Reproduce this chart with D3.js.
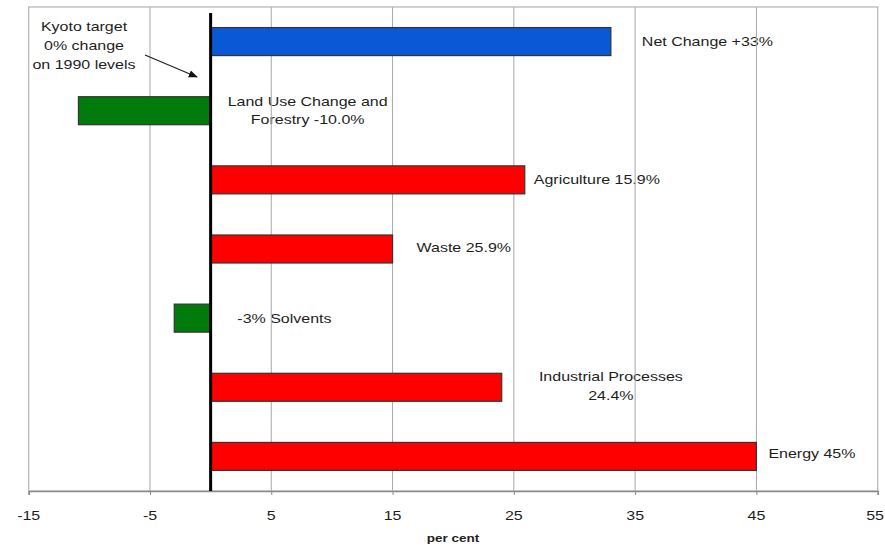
<!DOCTYPE html>
<html>
<head>
<meta charset="utf-8">
<script src="https://cdn.jsdelivr.net/npm/d3@7"></script>
<style>
  html, body { margin: 0; padding: 0; background: #fff; }
  svg { display: block; font-family: "Liberation Sans", Arial, sans-serif; }
</style>
</head>
<body>
<svg id="chart" width="885" height="549"></svg>
<script>
// Greenhouse gas emissions change by sector, per cent vs 1990
const categories = ["Net Change", "Land Use Change and Forestry", "Agriculture", "Waste", "Solvents", "Industrial Processes", "Energy"];
const values = [33, -10.9, 25.9, 15, -3, 24, 45];
const barColors = ["#0a58d6", "#007a0a", "#ff0000", "#ff0000", "#007a0a", "#ff0000", "#ff0000"];
// Annotation text beside each bar (one array entry per line)
const barLabels = [
  ["Net Change +33%"],
  ["Land Use Change and", "Forestry -10.0%"],
  ["Agriculture 15.9%"],
  ["Waste 25.9%"],
  ["-3% Solvents"],
  ["Industrial Processes", "24.4%"],
  ["Energy 45%"]
];
const xTicks = [-15, -5, 5, 15, 25, 35, 45, 55];
const axisTitle = "per cent";
const targetNote = ["Kyoto target", "0% change", "on 1990 levels"];

const svg = d3.select("#chart");
const W = 885, H = 549;
const plot = { left: 28.7, right: 877.7, top: 7, bottom: 491 };
const SX = 1.23; // horizontal text stretch

const x = d3.scaleLinear().domain([-15, 55]).range([plot.left, plot.right]);
const y = d3.scaleBand().domain(categories)
  .range([plot.top, plot.bottom]).paddingInner(0.595).paddingOuter(0.2975);

svg.append("rect").attr("width", W).attr("height", H).attr("fill", "#fff");

// Stretched text helper
function txt(g, s, px, py, anchor, size, weight) {
  g.append("text")
    .attr("transform", `translate(${px},${py}) scale(${SX},1)`)
    .attr("text-anchor", anchor || "start")
    .attr("dy", "0.35em")
    .attr("font-size", size || 13)
    .attr("font-weight", weight || "normal")
    .attr("fill", "#1e1e1e")
    .text(s);
}

// Labels layer (under gridlines)
const lbl = svg.append("g");
const labelPos = [
  { x: x(33) + 31, anchor: "start", dy: [0] },
  { x: x(8), anchor: "middle", dy: [-9.5, 9] },
  { x: x(25.9) + 9, anchor: "start", dy: [0] },
  { x: x(15) + 24, anchor: "start", dy: [-1.5] },
  { x: x(2.2), anchor: "start", dy: [0.5] },
  { x: x(33), anchor: "middle", dy: [-10.5, 8.2] },
  { x: x(45) + 12, anchor: "start", dy: [-2.5] }
];
categories.forEach((c, i) => {
  const cy = y(c) + y.bandwidth() / 2;
  barLabels[i].forEach((line, j) => {
    txt(lbl, line, labelPos[i].x, cy + labelPos[i].dy[j], labelPos[i].anchor);
  });
});

// Vertical gridlines
svg.append("g").selectAll("line").data(xTicks.slice(1, -1)).join("line")
  .attr("x1", d => x(d)).attr("x2", d => x(d))
  .attr("y1", plot.top).attr("y2", plot.bottom)
  .attr("stroke", "#a8a8a8").attr("stroke-width", 1);

// Plot frame
svg.append("rect")
  .attr("x", plot.left).attr("y", plot.top)
  .attr("width", plot.right - plot.left).attr("height", plot.bottom - plot.top)
  .attr("fill", "none").attr("stroke", "#b4b4b4").attr("stroke-width", 1.2);

// Bars
svg.append("g").selectAll("rect").data(categories).join("rect")
  .attr("x", (c, i) => x(Math.min(0, values[i])))
  .attr("y", c => y(c))
  .attr("width", (c, i) => Math.abs(x(values[i]) - x(0)))
  .attr("height", y.bandwidth())
  .attr("fill", (c, i) => barColors[i])
  .attr("stroke", "#333").attr("stroke-width", 1.2);

// Bottom axis
const axis = svg.append("g").attr("transform", `translate(0,${plot.bottom})`)
  .call(d3.axisBottom(x).tickValues(xTicks).tickSize(4).tickFormat(""));
axis.select(".domain").attr("stroke", "#8a8a8a").attr("stroke-width", 1.5);
axis.selectAll(".tick line").attr("stroke", "#8a8a8a");
const tl = svg.append("g");
xTicks.forEach((t, i) => {
  // last label is held inside the right edge of the page
  if (i === xTicks.length - 1) txt(tl, String(t), W - 1, 515, "end", 13);
  else txt(tl, String(t), x(t), 515, "middle", 13);
});
txt(svg, axisTitle, 453, 538, "middle", 11, "bold");

// Zero (target) line
svg.append("line")
  .attr("x1", x(0)).attr("x2", x(0))
  .attr("y1", 13).attr("y2", plot.bottom)
  .attr("stroke", "#000").attr("stroke-width", 3);

// Target annotation with arrow
const note = svg.append("g");
targetNote.forEach((s, i) => txt(note, s, 84, 26 + i * 19, "middle", 13));
svg.append("defs").append("marker")
  .attr("id", "arrowhead").attr("viewBox", "0 0 10 10")
  .attr("refX", 9).attr("refY", 5)
  .attr("markerWidth", 7).attr("markerHeight", 7)
  .attr("orient", "auto")
  .append("path").attr("d", "M0,1 L10,5 L0,9 Z").attr("fill", "#111");
svg.append("line")
  .attr("x1", 145).attr("y1", 55).attr("x2", 197).attr("y2", 77)
  .attr("stroke", "#222").attr("stroke-width", 1.3)
  .attr("marker-end", "url(#arrowhead)");
</script>
</body>
</html>
